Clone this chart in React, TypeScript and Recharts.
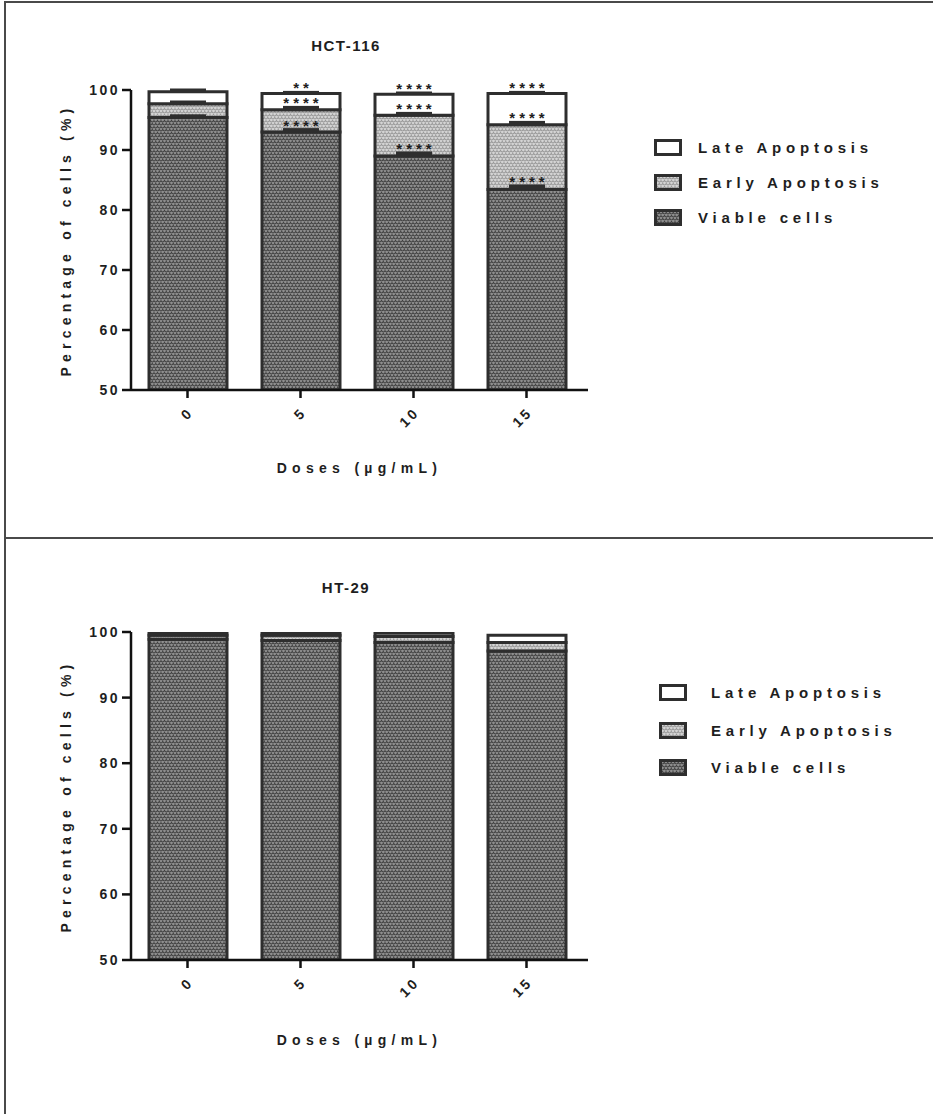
import React from "react";
import { Bar, BarChart, LabelList, XAxis, YAxis } from "recharts";

const doses = ["0", "5", "10", "15"];
const yTicks = [50, 60, 70, 80, 90, 100];
const legendNames = ["Late Apoptosis", "Early Apoptosis", "Viable cells"];

// HCT-116 (% of cells)
const hctViable = [95.4, 93.0, 89.0, 83.4];
const hctEarly = [2.3, 3.7, 6.8, 10.8];
const hctLate = [2.0, 2.7, 3.5, 5.2];
// SD (upper error caps)
const hctViableSd = [0.3, 0.4, 0.5, 0.6];
const hctEarlySd = [0.3, 0.4, 0.3, 0.4];
const hctLateSd = [0.3, 0.2, 0.2, 0.2];
// significance marks
const hctViableSig = ["", "****", "****", "****"];
const hctEarlySig = ["", "****", "****", "****"];
const hctLateSig = ["", "**", "****", "****"];

// HT-29 (% of cells)
const htViable = [98.9, 98.7, 98.4, 97.1];
const htEarly = [0.6, 0.8, 0.9, 1.3];
const htLate = [0.4, 0.4, 0.5, 1.1];

const FONT = '"Liberation Sans", Arial, sans-serif';
const INK = "#1e1e1e";
const EDGE = "#2e2e2e";

type Row = { dose: string; viable: number; early: number; late: number };

function buildRows(viable: number[], early: number[], late: number[]): Row[] {
  return doses.map((d, i) => ({ dose: d, viable: viable[i], early: early[i], late: late[i] }));
}

// marks are drawn from the top (late) segment: tops of the lower segments
// follow from its pixel height per unit
function makeMarks(late: number[], early: number[], sig: string[][], sd: number[][]) {
  return (props: any) => {
    const vb = props.viewBox ?? props;
    const index = props.index;
    const x = Number(vb.x);
    const y = Number(vb.y);
    const w = Number(vb.width);
    const h = Number(vb.height);
    const ppu = h / late[index];
    const cx = x + w / 2;
    const tops = [y, y + late[index] * ppu, y + (late[index] + early[index]) * ppu];
    return (
      <g>
        {tops.map((t, k) => {
          const cap = sd[k][index] * ppu;
          const s = sig[k][index];
          return (
            <g key={k}>
              <rect x={cx - 18} y={t - cap - 1.5} width={36} height={cap + 1.5} fill={EDGE} />
              {s && (
                <text
                  x={cx + 2}
                  y={t - cap + 1}
                  textAnchor="middle"
                  fontFamily={FONT}
                  fontWeight="bold"
                  fontSize={15}
                  letterSpacing={4}
                  fill={INK}
                >
                  {s}
                </text>
              )}
            </g>
          );
        })}
      </g>
    );
  };
}

const DoseTick = (props: any) => {
  const { x, y, payload } = props;
  return (
    <g transform={`translate(${x + 7},${y + 13})`}>
      <text
        x={0}
        y={0}
        textAnchor="end"
        transform="rotate(-45)"
        fontFamily={FONT}
        fontWeight="bold"
        fontSize={14}
        letterSpacing={3}
        fill={INK}
      >
        {payload.value}
      </text>
    </g>
  );
};

function Swatch({ fill }: { fill: string }) {
  return (
    <svg width={28} height={17} style={{ display: "block" }}>
      <rect x={1.5} y={1.5} width={25} height={14} fill={fill} stroke={EDGE} strokeWidth={3} />
    </svg>
  );
}

type PanelProps = {
  title: string;
  top: number;
  height: number;
  marginTop: number;
  marginBottom: number;
  labelOffset: number;
  viable: number[];
  early: number[];
  late: number[];
  marks?: { sig: string[][]; sd: number[][] };
  legendLeft: number;
  legendTop: number;
  legendGap: number;
  legendTextGap: number;
};

function Panel(p: PanelProps) {
  const rows = buildRows(p.viable, p.early, p.late);
  const fills = ["#ffffff", "url(#pat-early)", "url(#pat-viable)"];
  return (
    <div style={{ position: "absolute", left: 0, top: p.top, width: 933, height: p.height }}>
      <div
        style={{
          position: "absolute",
          left: 246,
          width: 200,
          top: p.marginTop - 53,
          textAlign: "center",
          fontFamily: FONT,
          fontWeight: "bold",
          fontSize: 15,
          letterSpacing: 1.5,
          color: INK,
        }}
      >
        {p.title}
      </div>
      <BarChart
        width={933}
        height={p.height}
        data={rows}
        barSize={78}
        margin={{ top: p.marginTop, right: 345, left: 0, bottom: p.marginBottom }}
      >
        <XAxis
          dataKey="dose"
          type="category"
          height={90}
          interval={0}
          padding={{ left: 0, right: 5 }}
          tickSize={8}
          tickMargin={2}
          axisLine={{ stroke: "#111", strokeWidth: 2.5 }}
          tickLine={{ stroke: "#111", strokeWidth: 2.5 }}
          tick={<DoseTick />}
          label={{
            value: "Doses (µg/mL)",
            position: "insideBottom",
            offset: p.labelOffset,
            style: {
              fontFamily: FONT,
              fontWeight: "bold",
              fontSize: 14,
              letterSpacing: 5.3,
              fill: INK,
            },
          }}
        />
        <YAxis
          type="number"
          domain={[50, 100]}
          ticks={yTicks}
          interval={0}
          allowDataOverflow
          width={131}
          tickSize={9}
          tickMargin={2}
          axisLine={{ stroke: "#111", strokeWidth: 2.5 }}
          tickLine={{ stroke: "#111", strokeWidth: 2.5 }}
          tick={{ fontFamily: FONT, fontWeight: "bold", fontSize: 14, letterSpacing: 2.5, fill: INK }}
          label={{
            value: "Percentage of cells (%)",
            angle: -90,
            position: "insideLeft",
            offset: 66,
            style: {
              textAnchor: "middle",
              fontFamily: FONT,
              fontWeight: "bold",
              fontSize: 14,
              letterSpacing: 5.2,
              fill: INK,
            },
          }}
        />
        <Bar
          dataKey="viable"
          stackId="a"
          fill="url(#pat-viable)"
          stroke={EDGE}
          strokeWidth={3}
          isAnimationActive={false}
        />
        <Bar
          dataKey="early"
          stackId="a"
          fill="url(#pat-early)"
          stroke={EDGE}
          strokeWidth={3}
          isAnimationActive={false}
        />
        <Bar
          dataKey="late"
          stackId="a"
          fill="#ffffff"
          stroke={EDGE}
          strokeWidth={3}
          isAnimationActive={false}
        >
          {p.marks && (
            <LabelList
              dataKey="late"
              content={makeMarks(p.late, p.early, p.marks.sig, p.marks.sd)}
            />
          )}
        </Bar>
      </BarChart>
      <div style={{ position: "absolute", left: p.legendLeft, top: p.legendTop }}>
        {legendNames.map((name, i) => (
          <div
            key={name}
            style={{ display: "flex", alignItems: "center", height: p.legendGap }}
          >
            <Swatch fill={fills[i]} />
            <span
              style={{
                marginLeft: p.legendTextGap,
                fontFamily: FONT,
                fontWeight: "bold",
                fontSize: 15,
                letterSpacing: 4.8,
                color: INK,
                whiteSpace: "nowrap",
              }}
            >
              {name}
            </span>
          </div>
        ))}
      </div>
    </div>
  );
}

export default function App() {
  return (
    <div
      style={{
        position: "absolute",
        left: 0,
        top: 0,
        width: 933,
        height: 1114,
        overflow: "hidden",
        background: "#fff",
      }}
    >
      <svg width={0} height={0} style={{ position: "absolute" }}>
        <defs>
          <pattern id="pat-viable" width={7} height={6} patternUnits="userSpaceOnUse">
            <rect width={7} height={6} fill="#8e8e8e" />
            <path
              d="M0 0.5 Q1.75 3.5 3.5 0.5 Q5.25 3.5 7 0.5 M-1.75 3.5 Q0 6.5 1.75 3.5 Q3.5 6.5 5.25 3.5 Q7 6.5 8.75 3.5"
              stroke="#3c3c3c"
              strokeWidth={1.1}
              fill="none"
            />
          </pattern>
          <pattern id="pat-early" width={7} height={6} patternUnits="userSpaceOnUse">
            <rect width={7} height={6} fill="#d4d4d4" />
            <path
              d="M0 0.5 Q1.75 3.5 3.5 0.5 Q5.25 3.5 7 0.5 M-1.75 3.5 Q0 6.5 1.75 3.5 Q3.5 6.5 5.25 3.5 Q7 6.5 8.75 3.5"
              stroke="#959595"
              strokeWidth={1.1}
              fill="none"
            />
          </pattern>
        </defs>
      </svg>
      <div
        style={{
          position: "absolute",
          left: 4,
          top: 1,
          width: 960,
          height: 1140,
          border: "2px solid #4a4a4a",
          boxSizing: "border-box",
        }}
      />
      <div
        style={{ position: "absolute", left: 4, top: 537, width: 960, height: 2, background: "#4a4a4a" }}
      />
      <Panel
        title="HCT-116"
        top={0}
        height={540}
        marginTop={90}
        marginBottom={60}
        labelOffset={7}
        viable={hctViable}
        early={hctEarly}
        late={hctLate}
        marks={{
          sig: [hctLateSig, hctEarlySig, hctViableSig],
          sd: [hctLateSd, hctEarlySd, hctViableSd],
        }}
        legendLeft={654}
        legendTop={130}
        legendGap={35}
        legendTextGap={16}
      />
      <Panel
        title="HT-29"
        top={540}
        height={574}
        marginTop={92}
        marginBottom={64}
        labelOffset={5}
        viable={htViable}
        early={htEarly}
        late={htLate}
        legendLeft={659}
        legendTop={134}
        legendGap={37.5}
        legendTextGap={24}
      />
    </div>
  );
}
